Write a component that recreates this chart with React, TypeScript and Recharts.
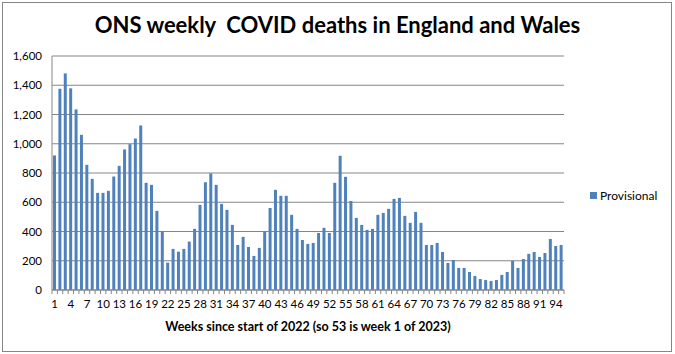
import { BarChart, Bar, XAxis, YAxis, CartesianGrid } from 'recharts';

const weeks = Array.from({ length: 95 }, (_, i) => String(i + 1));

const provisional = [
  920, 1376, 1481, 1379, 1235, 1061, 856, 760, 664, 664,
  678, 776, 849, 961, 997, 1036, 1125, 733, 719, 541,
  402, 187, 281, 262, 281, 331, 418, 582, 737, 797,
  719, 589, 548, 445, 308, 363, 294, 233, 288, 399,
  561, 685, 644, 644, 514, 418, 342, 315, 322, 390,
  425, 390, 733, 918, 774, 609, 493, 445, 411, 418,
  514, 527, 555, 623, 630, 507, 459, 534, 459, 308,
  308, 322, 260, 185, 205, 151, 151, 123, 96, 75,
  68, 62, 68, 103, 123, 199, 151, 212, 247, 260,
  226, 253, 349, 301, 308,
];

const yTicks = [0, 200, 400, 600, 800, 1000, 1200, 1400, 1600];

const data = weeks.map((w, i) => ({ week: w, value: provisional[i] }));

const FONT = 'Lato, "Open Sans", sans-serif';
const BLUE = '#4F81BD';
const GRID = '#868686';

const PLOT_LEFT = 52;
const PLOT_RIGHT = 564;
const BAND = (PLOT_RIGHT - PLOT_LEFT) / weeks.length;

const WeekTick = (props: any) => {
  const { x, y, payload, index } = props;
  const left = x - BAND / 2;
  return (
    <g>
      <line x1={left} x2={left} y1={y - 8} y2={y - 4} stroke={GRID} />
      {index === weeks.length - 1 && (
        <line x1={left + BAND} x2={left + BAND} y1={y - 8} y2={y - 4} stroke={GRID} />
      )}
      {index % 3 === 0 && (
        <text x={x} y={y + 10} textAnchor="middle" fontSize={11.5} fill="#000" fontFamily={FONT}>
          {payload.value}
        </text>
      )}
    </g>
  );
};

export default function App() {
  return (
    <div style={{ position: 'absolute', left: 0, top: 0, width: 675, height: 354, background: '#fff' }}>
      <div
        style={{
          position: 'absolute', left: 2, top: 2, width: 668, height: 348,
          border: `1px solid ${GRID}`,
        }}
      />
      <div
        style={{
          position: 'absolute', left: 0, top: 11, width: 675, textAlign: 'center',
          fontFamily: FONT, fontWeight: 'bold', fontSize: 22, color: '#000',
        }}
      >
        ONS weekly&nbsp; COVID deaths in England and Wales
      </div>
      <div
        style={{
          position: 'absolute', left: PLOT_LEFT - 10, top: 319, width: PLOT_RIGHT - PLOT_LEFT + 20, textAlign: 'center',
          fontFamily: FONT, fontWeight: 'bold', fontSize: 12.5, color: '#000',
        }}
      >
        Weeks since start of 2022 (so 53 is week 1 of 2023)
      </div>
      <div
        style={{
          position: 'absolute', left: 590, top: 188, display: 'flex', alignItems: 'center',
          fontFamily: FONT, fontSize: 12, color: '#000',
        }}
      >
        <span style={{ display: 'inline-block', width: 7, height: 7, background: BLUE, marginRight: 3 }} />
        Provisional
      </div>
      <BarChart
        width={675}
        height={354}
        data={data}
        margin={{ top: 56, right: 675 - PLOT_RIGHT, bottom: 44, left: 8 }}
        barSize={3}
        style={{ position: 'absolute', left: 0, top: 0 }}
      >
        <CartesianGrid vertical={false} stroke={GRID} strokeWidth={1} />
        <YAxis
          domain={[0, 1600]}
          ticks={yTicks}
          width={44}
          interval={0}
          tickLine={false}
          axisLine={{ stroke: GRID }}
          tickFormatter={(v: number) => v.toLocaleString('en-US')}
          tick={{ fontSize: 11.5, fill: '#000', fontFamily: FONT }}
          tickMargin={4}
        />
        <XAxis
          dataKey="week"
          interval={0}
          height={20}
          tickLine={false}
          axisLine={{ stroke: GRID }}
          tick={<WeekTick />}
        />
        <Bar dataKey="value" fill={BLUE} isAnimationActive={false} />
      </BarChart>
    </div>
  );
}
